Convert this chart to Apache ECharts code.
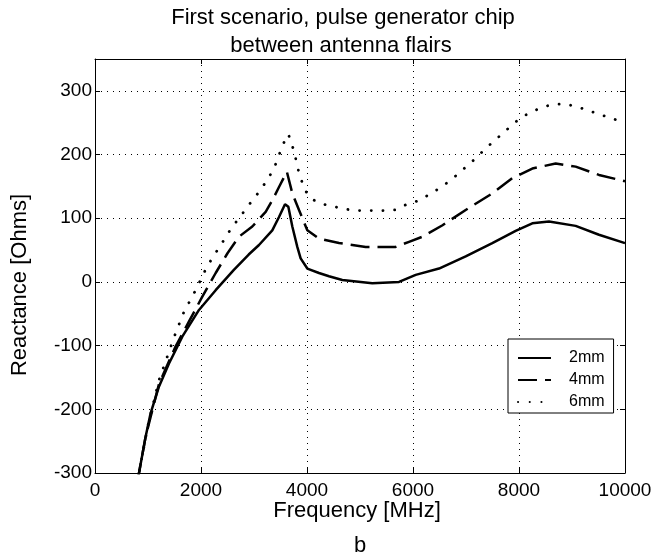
<!DOCTYPE html>
<html>
<head>
<meta charset="utf-8">
<script src="https://cdn.jsdelivr.net/npm/echarts@6/dist/echarts.min.js"></script>
<style>
html,body{margin:0;padding:0;background:#fff;}
#chart{width:659px;height:558px;}
</style>
</head>
<body>
<div id="chart"></div>
<script>
// ---- data ----
var seriesNames = ['2mm', '4mm', '6mm'];

var freq2mm  = [800, 830, 955, 1050, 1208, 1396, 1647, 1962, 2277, 2620, 2900, 3094, 3345, 3472, 3585, 3648, 3723, 3817, 3880, 4006, 4226, 4415, 4666, 5232, 5736, 6051, 6491, 6994, 7496, 7937, 8251, 8566, 9069, 9509, 10000];
var react2mm = [-314, -300, -243, -206, -164, -128, -86, -44, -13, 19, 43, 58, 81, 102, 122, 118, 87, 55, 37, 21, 14, 9, 3, -2, 0, 11, 21, 40, 61, 80, 92, 95, 88, 74, 61];

var freq4mm  = [800, 830, 955, 1208, 1522, 1774, 2025, 2277, 2500, 2717, 2968, 3220, 3345, 3472, 3620, 3723, 3849, 4006, 4226, 4604, 5107, 5673, 5925, 6177, 6557, 6994, 7496, 7874, 8251, 8692, 9069, 9509, 10000];
var react4mm = [-314, -300, -243, -160, -101, -62, -23, 14, 45, 71, 87, 110, 128, 149, 173, 139, 113, 81, 68, 61, 55, 55, 63, 71, 89, 113, 139, 163, 178, 186, 181, 168, 158];

var freq6mm  = [800, 830, 1000, 1208, 1365, 1522, 1679, 1899, 2113, 2340, 2466, 2591, 2730, 2855, 3000, 3145, 3270, 3377, 3459, 3541, 3648, 3711, 3774, 3817, 3880, 3962, 4088, 4302, 4516, 4742, 4969, 5195, 5421, 5660, 5862, 6082, 6283, 6478, 6667, 6843, 7019, 7183, 7352, 7522, 7692, 7862, 8038, 8239, 8453, 8673, 8899, 9132, 9346, 9560, 9780, 10000];
var react6mm = [-314, -300, -225, -154, -117, -80, -47, -13, 24, 54, 70, 87, 101, 116, 131, 147, 163, 178, 196, 215, 232, 217, 199, 181, 163, 144, 130, 122, 118, 114, 112, 112, 112, 113, 121, 127, 136, 146, 157, 169, 182, 194, 208, 221, 233, 246, 258, 267, 275, 279, 279, 274, 268, 262, 256, 250];

var xTicks = [0, 2000, 4000, 6000, 8000, 10000];
var yTicks = [-300, -200, -100, 0, 100, 200, 300];

var titleLines = ['First scenario, pulse generator chip', 'between antenna flairs'];
var xLabel = 'Frequency [MHz]';
var yLabel = 'Reactance [Ohms]';
var subLabel = 'b';

function pairs(xs, ys) { return xs.map(function (x, i) { return [x, ys[i]]; }); }

var FONT = '"Liberation Sans", Arial, Helvetica, sans-serif';
var chart = echarts.init(document.getElementById('chart'), null, {renderer: 'canvas'});

var gridLine = {show: true, lineStyle: {color: '#000', width: 1, type: [1, 5]}};
var frame = {show: true, onZero: false, lineStyle: {color: '#000', width: 1}};
var plain = function (v) { return String(v); };

var option = {
  backgroundColor: '#fff',
  animation: false,
  grid: {left: 95, right: 34, top: 59, bottom: 85, containLabel: false},
  xAxis: [{
    type: 'value', min: xTicks[0], max: xTicks[xTicks.length - 1], interval: 2000,
    axisLine: frame,
    axisTick: {show: true, inside: true, length: 5, lineStyle: {color: '#000'}},
    axisLabel: {color: '#000', fontSize: 19, fontFamily: FONT, margin: 8, formatter: plain},
    splitLine: gridLine
  }, {
    type: 'value', position: 'top', min: xTicks[0], max: xTicks[xTicks.length - 1], interval: 2000,
    axisLine: frame,
    axisTick: {show: true, inside: true, length: 5, lineStyle: {color: '#000'}},
    axisLabel: {show: false},
    splitLine: {show: false}
  }],
  yAxis: [{
    type: 'value', min: yTicks[0], max: 350, interval: 100,
    axisLine: frame,
    axisTick: {show: true, inside: true, length: 5, lineStyle: {color: '#000'}},
    axisLabel: {color: '#000', fontSize: 19, fontFamily: FONT, margin: 3, showMaxLabel: false, formatter: plain},
    splitLine: gridLine
  }, {
    type: 'value', position: 'right', min: yTicks[0], max: 350, interval: 100,
    axisLine: frame,
    axisTick: {show: true, inside: true, length: 5, lineStyle: {color: '#000'}},
    axisLabel: {show: false},
    splitLine: {show: false}
  }],
  legend: {
    orient: 'vertical', left: 508, top: 339,
    padding: [11, 9, 3, 9], itemGap: 6, itemWidth: 33, itemHeight: 14,
    backgroundColor: '#fff', borderColor: '#000', borderWidth: 1,
    itemStyle: {opacity: 0},
    textStyle: {color: '#000', fontSize: 16, fontFamily: FONT, padding: [0, 0, 0, 13]},
    data: seriesNames
  },
  series: [{
    name: seriesNames[0], type: 'line', data: pairs(freq2mm, react2mm),
    showSymbol: false, symbol: 'none',
    lineStyle: {color: '#000', width: 2.5, type: 'solid'},
    itemStyle: {color: '#000'}
  }, {
    name: seriesNames[1], type: 'line', data: pairs(freq4mm, react4mm),
    showSymbol: false, symbol: 'none',
    lineStyle: {color: '#000', width: 2.5, type: [19, 8]},
    itemStyle: {color: '#000'}
  }, {
    name: seriesNames[2], type: 'line', data: pairs(freq6mm, react6mm),
    showSymbol: false, symbol: 'none',
    lineStyle: {color: '#000', width: 2.8, type: [0.1, 11.6], cap: 'round'},
    itemStyle: {color: '#000'}
  }],
  graphic: [
    {type: 'text', x: 343, y: 18.4, silent: true,
     style: {text: titleLines[0], font: '22px ' + FONT, fill: '#000', textAlign: 'center', textVerticalAlign: 'middle'}},
    {type: 'text', x: 341, y: 46.4, silent: true,
     style: {text: titleLines[1], font: '22px ' + FONT, fill: '#000', textAlign: 'center', textVerticalAlign: 'middle'}},
    {type: 'text', x: 357, y: 511, silent: true,
     style: {text: xLabel, font: '22px ' + FONT, fill: '#000', textAlign: 'center', textVerticalAlign: 'middle'}},
    {type: 'text', x: 360, y: 546, silent: true,
     style: {text: subLabel, font: '22px ' + FONT, fill: '#000', textAlign: 'center', textVerticalAlign: 'middle'}},
    {type: 'text', x: 20, y: 285, rotation: Math.PI / 2, silent: true,
     style: {text: yLabel, font: '22px ' + FONT, fill: '#000', textAlign: 'center', textVerticalAlign: 'middle'}}
  ]
};
chart.setOption(option);
</script>
</body>
</html>
